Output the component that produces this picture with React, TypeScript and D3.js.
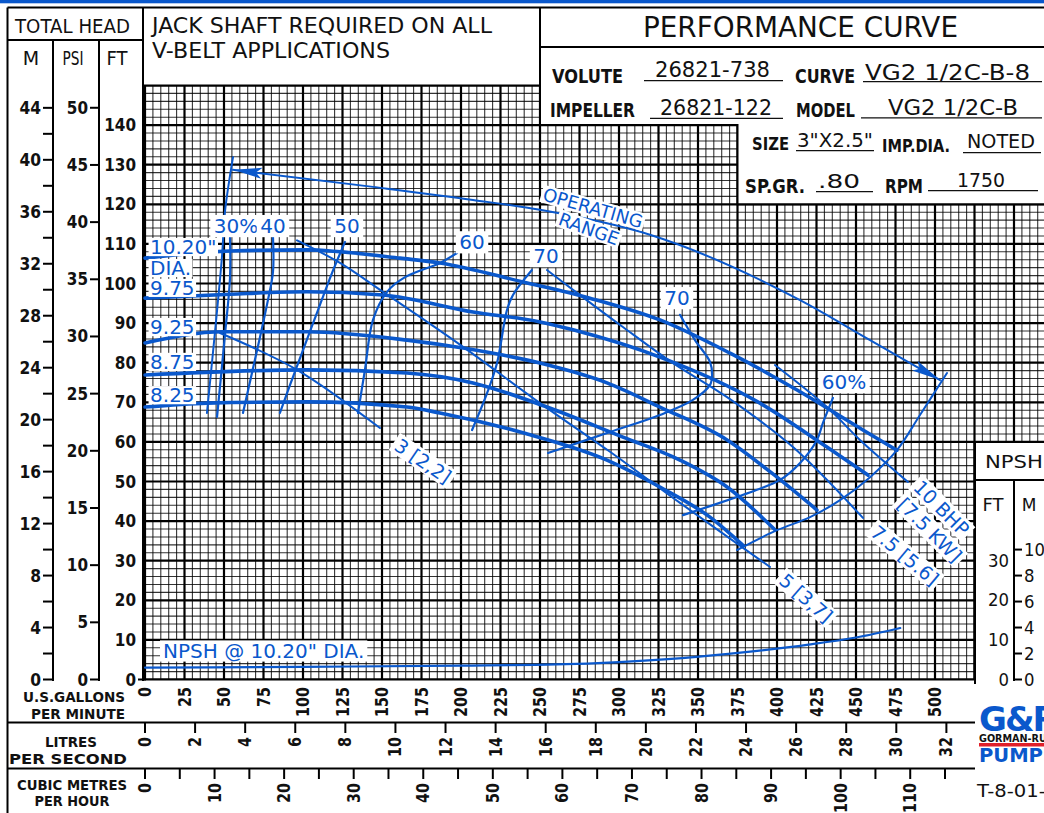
import { useEffect, useRef } from "react";
import * as d3 from "d3";

type Pt = [number, number];

const BLUE = "#0a58cc";
const SANS = "'DejaVu Sans', Verdana, sans-serif";

// head-capacity curves, [US GPM, total head ft]
const head1020: Pt[] = [[0, 106.4], [53.8, 108.2], [102.5, 108.5], [123.4, 108.0], [161.4, 106.4], [186.7, 105.2], [239.2, 100.4], [281.6, 96.3], [325.9, 90.8], [370.3, 82.4], [412.7, 73.1], [454.4, 63.0], [475.9, 57.9]];
const head975: Pt[] = [[0, 96.3], [53.8, 97.3], [102.5, 97.9], [150.6, 97.1], [207.6, 92.8], [250, 90.3], [270.9, 88.3], [325.9, 81.4], [389.2, 69.8], [431.6, 58.7], [457.6, 51.6]];
const head925: Pt[] = [[0, 85.0], [49.4, 87.8], [102.5, 87.8], [165.8, 85.7], [201.3, 83.7], [250, 79.9], [292.4, 74.9], [325.9, 68.8], [368.4, 60.5], [396.8, 52.1], [425.3, 42.8]];
const head875: Pt[] = [[0, 76.9], [102.5, 78.2], [165.8, 77.4], [207.6, 74.9], [254.4, 68.8], [302.5, 61.2], [338.6, 55.4], [368.4, 48.6], [398.7, 37.8]];
const head825: Pt[] = [[0, 68.8], [39.2, 69.8], [102.5, 70.1], [165.8, 68.8], [186.7, 67.3], [239.2, 62.3], [292.4, 55.4], [325.9, 48.6], [357.6, 41.0], [378.5, 33.9]];
const headCurves = [head1020, head975, head925, head875, head825];

// efficiency contours
const eff30: Pt[] = [[53.8, 111.5], [53.8, 101.4], [50.6, 87.0], [45.6, 66.3]];
const eff40: Pt[] = [[81, 111.7], [81, 102.9], [77.8, 95.8], [72.8, 86.5], [62, 67.3]];
const eff50: Pt[] = [[126.6, 110.5], [118.4, 102.7], [109.5, 93.3], [100, 83.2], [91.8, 74.4], [85.4, 67.3]];
const eff60a: Pt[] = [[197.5, 107.7], [186.7, 105.2], [164.6, 101.6], [153.2, 97.9], [144.3, 90.8], [139.2, 78.2], [134.8, 67.3]];
const eff60b: Pt[] = [[435.4, 71.1], [429.1, 64.8], [425.3, 60.5], [414.6, 54.7], [401.9, 50.4], [387.3, 47.9], [374.7, 46.1], [340.5, 41.5]];
const eff70a: Pt[] = [[244.9, 103.4], [232.9, 97.1], [229.1, 93.3], [222.8, 79.9], [216.5, 72.3], [207, 63.0]];
const eff70b: Pt[] = [[338.6, 92.1], [348.1, 85.7], [357.6, 80.2], [358.9, 76.9], [357.6, 74.4], [346.8, 70.6], [325.9, 66.8], [294.3, 62.5], [255.1, 57.2]];
const effCurves = [eff30, eff40, eff50, eff60a, eff60b, eff70a, eff70b];

// brake horsepower lines
const bhp3: Pt[] = [[47.5, 87.5], [96.2, 78.2], [148.7, 63.5]];
const bhp5: Pt[] = [[96.2, 110.9], [123.4, 105.2], [150.6, 97.9], [201.3, 84.0], [250, 69.8], [294.3, 57.5], [338.6, 44.6], [395.6, 28.4]];
const bhp75: Pt[] = [[254.4, 103.4], [270.9, 98.4], [302.5, 89.0], [334.2, 79.9], [368.4, 71.3], [410.1, 58.7], [454.4, 40.8]];
const bhp10: Pt[] = [[398.7, 79.4], [431.6, 68.8], [452.5, 60.5], [482.9, 49.9]];
const bhpCurves = [bhp3, bhp5, bhp75, bhp10];

// operating range
const opTop: Pt[] = [[55.7, 128.7], [144.3, 124.4], [207.6, 121.1], [250, 118.6], [319.6, 112.3], [414.6, 95.8], [458.9, 85.7], [503.2, 75.6]];
const opLeft: Pt[] = [[55.7, 131.9], [50.6, 118.1], [48.7, 106.7], [39.2, 67.3]];
const opRight: Pt[] = [[507.6, 77.4], [490.5, 66.8], [475.9, 57.9], [458.9, 51.1], [439.9, 45.3], [420.9, 41.0], [400, 37.7], [374.7, 32.7]];

// NPSH required at 10.20" dia, [GPM, ft]
const npsh1020: Pt[] = [[0, 3.0], [100, 3.2], [200, 3.5], [260, 3.8], [300, 4.4], [340, 5.4], [380, 6.9], [420, 8.8], [450, 10.6], [478, 13.0]];

// chart labels
const diaLabels = ['10.20"', "DIA.", "9.75", "9.25", "8.75", "8.25"];
const diaLabelAt: Pt[] = [[3.2, 109.2], [3.2, 103.9], [3.2, 98.9], [3.2, 89.0], [3.2, 80.2], [3.2, 71.8]];
const effLabels = ["30%", "40", "50", "60", "70", "70", "60%"];
const effLabelAt: Pt[] = [[57.6, 114.5], [81, 114.5], [127.8, 114.5], [207, 110.4], [253.8, 106.9], [336.7, 96.3], [442.4, 75.1]];
const bhpLabels = ["3 [2,2]", "5 [3,7]", "7.5 [5.6]", "10 BHP", "[7.5 KW]"];
const bhpLabelAt: Pt[] = [[176, 55.2], [418.4, 20.6], [481, 31.4], [504.2, 43.3], [496.8, 37.8]];
const bhpLabelAngle = [34, 41, 40, 45, 45];
const rangeLabels = ["OPERATING", "RANGE"];
const rangeLabelAt: Pt[] = [[283.5, 119.1], [281, 113.8]];
const rangeLabelAngle = [16, 20];
const npshLabel = 'NPSH @ 10.20" DIA.';
const npshLabelAt: Pt = [11.4, 7.2];

// axes
const gpmTicks = [0, 25, 50, 75, 100, 125, 150, 175, 200, 225, 250, 275, 300, 325, 350, 375, 400, 425, 450, 475, 500];
const lpsTicks = [0, 2, 4, 6, 8, 10, 12, 14, 16, 18, 20, 22, 24, 26, 28, 30, 32];
const m3hTicks = [0, 10, 20, 30, 40, 50, 60, 70, 80, 90, 100, 110];
const m3hMinor = [5, 15, 25, 35, 45, 55, 65, 75, 85, 95, 105, 115];
const ftTicks = [0, 10, 20, 30, 40, 50, 60, 70, 80, 90, 100, 110, 120, 130, 140];
const psiTicks = [0, 5, 10, 15, 20, 25, 30, 35, 40, 45, 50];
const mTicks = [0, 4, 8, 12, 16, 20, 24, 28, 32, 36, 40, 44];
const mMinor = [2, 6, 10, 14, 18, 22, 26, 30, 34, 38, 42];
const npshFtTicks = [0, 10, 20, 30];
const npshMTicks = [0, 2, 4, 6, 8, 10];

const FT_PER_M = 3.28084;
const FT_PER_PSI = 2.31 / 0.8;
const GPM_PER_LPS = 15.8503;
const GPM_PER_M3H = 4.40287;

type Sel = d3.Selection<any, unknown, null, undefined>;

function txt(
  p: Sel,
  s: string,
  x: number,
  y: number,
  o: { size: number; weight?: string; anchor?: string; fill?: string; len?: number; base?: string } = { size: 16 }
) {
  const t = p
    .append("text")
    .attr("x", x)
    .attr("y", y)
    .attr("font-family", SANS)
    .attr("font-size", o.size)
    .attr("font-weight", o.weight ?? "normal")
    .attr("text-anchor", o.anchor ?? "start")
    .attr("fill", o.fill ?? "#111")
    .text(s);
  if (o.base) t.attr("dominant-baseline", o.base);
  if (o.len) t.attr("textLength", o.len).attr("lengthAdjust", "spacingAndGlyphs");
  return t;
}

// blue annotation on a white patch sized to the capitals
function boxedLabel(p: Sel, s: string, px: number, py: number, angle: number, size: number, anchor = "middle", pad = 2) {
  const g = p.append("g").attr("transform", `translate(${px},${py}) rotate(${angle})`);
  const t = txt(g, s, 0, 0, { size, anchor, fill: BLUE, base: "central" });
  const bb = (t.node() as SVGTextElement).getBBox();
  const capH = size * 0.76;
  g.insert("rect", "text")
    .attr("x", bb.x - pad)
    .attr("y", -capH / 2 - pad)
    .attr("width", bb.width + 2 * pad)
    .attr("height", capH + 2 * pad)
    .attr("fill", "#fff");
}

export default function App() {
  const ref = useRef<SVGSVGElement>(null);

  useEffect(() => {
    const svg = d3.select(ref.current!);
    svg.selectAll("*").remove();

    const x = d3.scaleLinear().domain([0, 500]).range([145, 935]);
    const y = d3.scaleLinear().domain([0, 150]).range([679.5, 85.5]);

    svg.append("rect").attr("width", 1044).attr("height", 813).attr("fill", "#fff");
    svg.append("rect").attr("width", 1044).attr("height", 3.3).attr("fill", BLUE);

    // ---- grid ----
    const clip: Pt[] = [
      [0, 0], [0, 150], [250, 150], [250, 140], [375, 140], [375, 120],
      [572, 120], [572, 60], [525, 60], [525, 0],
    ];
    const clipPts = clip.map(([g, f]) => `${x(g)},${y(f)}`).join(" ");
    svg.append("defs").append("clipPath").attr("id", "gridclip")
      .append("polygon").attr("points", clipPts);
    const grid = svg.append("g").attr("clip-path", "url(#gridclip)");

    const minorX = d3.range(0, 572, 5).filter((d) => d % 25 !== 0);
    const minorY = d3.range(0, 151, 2).filter((d) => d % 10 !== 0);
    const majorX = d3.range(0, 572, 25);
    const majorY = d3.range(0, 151, 10);
    grid.selectAll(".mx").data(minorX).join("line")
      .attr("x1", (d) => x(d)).attr("x2", (d) => x(d))
      .attr("y1", y(0)).attr("y2", y(150))
      .attr("stroke", "#000").attr("stroke-width", 1.1).attr("stroke-opacity", 0.8);
    grid.selectAll(".my").data(minorY).join("line")
      .attr("x1", x(0)).attr("x2", 1044)
      .attr("y1", (d) => y(d)).attr("y2", (d) => y(d))
      .attr("stroke", "#000").attr("stroke-width", 1.1).attr("stroke-opacity", 0.8);
    grid.selectAll(".Mx").data(majorX).join("line")
      .attr("x1", (d) => x(d)).attr("x2", (d) => x(d))
      .attr("y1", y(0)).attr("y2", y(150))
      .attr("stroke", "#000").attr("stroke-width", 2.2);
    grid.selectAll(".My").data(majorY).join("line")
      .attr("x1", x(0)).attr("x2", 1044)
      .attr("y1", (d) => y(d)).attr("y2", (d) => y(d))
      .attr("stroke", "#000").attr("stroke-width", 2.2);
    svg.append("polygon").attr("points", clipPts)
      .attr("fill", "none").attr("stroke", "#000").attr("stroke-width", 2);

    // ---- frame lines ----
    const frame = svg.append("g").attr("stroke", "#000").attr("stroke-width", 2);
    const seg = (x1: number, y1: number, x2: number, y2: number) =>
      frame.append("line").attr("x1", x1).attr("y1", y1).attr("x2", x2).attr("y2", y2);
    seg(7.5, 7.5, 1044, 7.5);
    seg(7.5, 7.5, 7.5, 813);
    seg(7.5, 40, 144, 40);
    seg(53, 40, 53, 681);
    seg(99, 40, 99, 681);
    seg(143, 7.5, 143, 681);
    seg(540, 7.5, 540, 86);
    seg(540, 47, 1044, 47);
    seg(7.5, 722.5, 975, 722.5);
    seg(7.5, 768.5, 975, 768.5);
    seg(975, y(60), 975, 684);
    seg(975, 480, 1044, 480);
    seg(1014, 480, 1014, 681);
    seg(138, y(0), 146, y(0));

    // ---- header text ----
    txt(svg, "TOTAL HEAD", 15, 32.5, { size: 19, len: 115 });
    txt(svg, "M", 31, 65, { size: 19, anchor: "middle" });
    txt(svg, "PSI", 73, 65, { size: 19, anchor: "middle", len: 21 });
    txt(svg, "FT", 117, 65, { size: 19, anchor: "middle", len: 21 });
    txt(svg, "JACK SHAFT REQUIRED ON ALL", 152, 33, { size: 21, len: 340 });
    txt(svg, "V-BELT APPLICATIONS", 152, 57.5, { size: 21, len: 238 });
    txt(svg, "PERFORMANCE CURVE", 643, 36.7, { size: 29, len: 315 });

    const info: [string, number, number, number, number, boolean][] = [
      ["VOLUTE", 552, 83.3, 71, 20, true],
      ["26821-738", 655, 77.3, 115, 21, false],
      ["CURVE", 795, 83.3, 60, 20, true],
      ["VG2 1/2C-B-8", 865, 79.5, 165, 21, false],
      ["IMPELLER", 550, 116.7, 85, 20, true],
      ["26821-122", 660, 114.5, 112, 21, false],
      ["MODEL", 796, 117.3, 59, 20, true],
      ["VG2 1/2C-B", 888, 114.5, 130, 21, false],
      ["SIZE", 752, 150, 37, 18, true],
      ['3"X2.5"', 797, 146.7, 76, 20, false],
      ["IMP.DIA.", 882, 151.7, 68, 18, true],
      ["NOTED", 967, 148.3, 68, 20, false],
      ["SP.GR.", 745, 192.7, 60, 19, true],
      [".80", 818, 188.3, 42, 20, false],
      ["RPM", 885, 192.7, 38, 19, true],
      ["1750", 957, 187.3, 48, 20, false],
    ];
    info.forEach(([s, tx, ty, len, size, bold]) =>
      txt(svg, s, tx, ty, { size, len, weight: bold ? "bold" : "normal" })
    );
    const unders: [number, number, number][] = [
      [644, 783, 80.7], [863, 1042, 81.7], [650, 783, 118.3], [861, 1042, 117.8],
      [796, 874, 150.7], [963, 1041, 152.7], [816, 873, 191.7], [928, 1038, 190.7],
    ];
    unders.forEach(([a, b, yy]) =>
      svg.append("line").attr("x1", a).attr("x2", b).attr("y1", yy).attr("y2", yy)
        .attr("stroke", "#111").attr("stroke-width", 1.3)
    );

    // ---- left axes ----
    const num = { size: 17, weight: "bold", anchor: "end", base: "central" };
    ftTicks.forEach((f) => txt(svg, String(f), 136, y(f), { ...num, len: String(f).length * 10.6 }));
    psiTicks.forEach((p) => {
      const yy = y(p * FT_PER_PSI);
      svg.append("line").attr("x1", 90).attr("x2", 99).attr("y1", yy).attr("y2", yy).attr("stroke", "#000").attr("stroke-width", 2);
      txt(svg, String(p), 88, yy, { ...num, len: String(p).length * 10.6 });
    });
    [...mTicks, ...mMinor].forEach((m) => {
      const yy = y(m * FT_PER_M);
      svg.append("line").attr("x1", 43).attr("x2", 53).attr("y1", yy).attr("y2", yy).attr("stroke", "#000").attr("stroke-width", 2);
    });
    mTicks.forEach((m) => txt(svg, String(m), 41, y(m * FT_PER_M), { ...num, len: String(m).length * 10.8 }));

    // ---- bottom axes ----
    const rot = (s: string, px: number, py: number) =>
      txt(svg, s, 0, 0, { size: 17, weight: "bold", anchor: "end", base: "central", len: s.length * 10 })
        .attr("x", null).attr("y", null)
        .attr("transform", `translate(${px},${py}) rotate(-90)`);
    gpmTicks.forEach((g) => rot(String(g), x(g), 687));
    lpsTicks.forEach((l) => {
      const xx = x(l * GPM_PER_LPS);
      svg.append("line").attr("x1", xx).attr("x2", xx).attr("y1", 722.5).attr("y2", 733).attr("stroke", "#000").attr("stroke-width", 2);
      rot(String(l), xx, 737);
    });
    [...m3hTicks, ...m3hMinor].forEach((c) => {
      const xx = x(c * GPM_PER_M3H);
      svg.append("line").attr("x1", xx).attr("x2", xx).attr("y1", 768.5).attr("y2", 779).attr("stroke", "#000").attr("stroke-width", 2);
    });
    m3hTicks.forEach((c) => rot(String(c), x(c * GPM_PER_M3H), 783));

    const cap = { size: 13.5, weight: "bold", anchor: "middle" };
    txt(svg, "U.S.GALLONS", 74, 702, { ...cap, len: 102 });
    txt(svg, "PER MINUTE", 78, 719, { ...cap, len: 94 });
    txt(svg, "LITRES", 71, 747, { ...cap, len: 52 });
    txt(svg, "PER SECOND", 68, 764, { ...cap, len: 118 });
    txt(svg, "CUBIC METRES", 72, 790, { ...cap, len: 110 });
    txt(svg, "PER HOUR", 72, 806, { ...cap, len: 75 });

    // ---- NPSH scale box ----
    txt(svg, "NPSH", 985, 468, { size: 17, len: 58 });
    txt(svg, "FT", 993, 511, { size: 17, anchor: "middle", len: 21 });
    txt(svg, "M", 1029, 511, { size: 17, anchor: "middle" });
    npshFtTicks.forEach((f) => txt(svg, String(f), 1009, y(f), { ...num, weight: "normal", len: String(f).length * 10.5 }));
    npshMTicks.forEach((m) => {
      const yy = y(m * FT_PER_M);
      svg.append("line").attr("x1", 1014).attr("x2", 1022).attr("y1", yy).attr("y2", yy).attr("stroke", "#000").attr("stroke-width", 2);
      txt(svg, String(m), 1024, yy, { ...num, weight: "normal", anchor: "start", len: String(m).length * 10.5 });
    });

    // ---- curves ----
    const smooth = d3.line<Pt>().x((d) => x(d[0])).y((d) => y(d[1])).curve(d3.curveMonotoneX);
    const loose = d3.line<Pt>().x((d) => x(d[0])).y((d) => y(d[1])).curve(d3.curveCatmullRom.alpha(0.5));
    const curves = svg.append("g").attr("fill", "none").attr("stroke", BLUE).attr("stroke-linecap", "round");

    curves.selectAll(".npsh").data([npsh1020]).join("path").attr("d", smooth).attr("stroke-width", 2.2);
    curves.selectAll(".eff").data(effCurves).join("path").attr("d", loose).attr("stroke-width", 2.2);
    curves.selectAll(".bhp").data(bhpCurves).join("path").attr("d", loose).attr("stroke-width", 2);
    curves.selectAll(".opl").data([opLeft, opRight]).join("path").attr("d", loose).attr("stroke-width", 2);

    const defs = svg.select("defs");
    defs.append("marker").attr("id", "arw").attr("markerUnits", "userSpaceOnUse")
      .attr("markerWidth", 30).attr("markerHeight", 12).attr("refX", 29).attr("refY", 6)
      .attr("orient", "auto-start-reverse")
      .append("path").attr("d", "M0,0.5 L29,6 L0,11.5 L6,6 Z").attr("fill", BLUE);
    curves.append("path").datum(opTop).attr("d", smooth).attr("stroke-width", 2)
      .attr("marker-start", "url(#arw)").attr("marker-end", "url(#arw)");

    curves.selectAll(".head").data(headCurves).join("path").attr("d", smooth).attr("stroke-width", 3.6);

    // ---- labels ----
    const labels = svg.append("g");
    diaLabels.forEach((s, i) => boxedLabel(labels, s, x(diaLabelAt[i][0]), y(diaLabelAt[i][1]), 0, 20, "start", 1.5));
    effLabels.forEach((s, i) => boxedLabel(labels, s, x(effLabelAt[i][0]), y(effLabelAt[i][1]), 0, 20, "middle", 3.5));
    bhpLabels.forEach((s, i) => boxedLabel(labels, s, x(bhpLabelAt[i][0]), y(bhpLabelAt[i][1]), bhpLabelAngle[i], 19, "middle", 3));
    rangeLabels.forEach((s, i) => boxedLabel(labels, s, x(rangeLabelAt[i][0]), y(rangeLabelAt[i][1]), rangeLabelAngle[i], 18, "middle", 2));
    boxedLabel(labels, npshLabel, x(npshLabelAt[0]), y(npshLabelAt[1]), 0, 20, "start", 3);

    // ---- logo & drawing number ----
    txt(svg, "G&R", 979, 731, { size: 34, weight: "bold", fill: BLUE }).attr("letter-spacing", -2);
    txt(svg, "GORMAN-RUPP", 979, 741.5, { size: 10, weight: "bold", len: 82 });
    svg.append("rect").attr("x", 979).attr("y", 743).attr("width", 70).attr("height", 3.5).attr("fill", "#e0202a");
    txt(svg, "PUMPS", 979, 762, { size: 19, weight: "bold", fill: BLUE, len: 78 });
    txt(svg, "T-8-01-F", 977, 797, { size: 17, len: 80 });
  }, []);

  return (
    <div style={{ position: "absolute", left: 0, top: 0 }}>
      <svg ref={ref} width={1044} height={813} style={{ display: "block" }} />
    </div>
  );
}
